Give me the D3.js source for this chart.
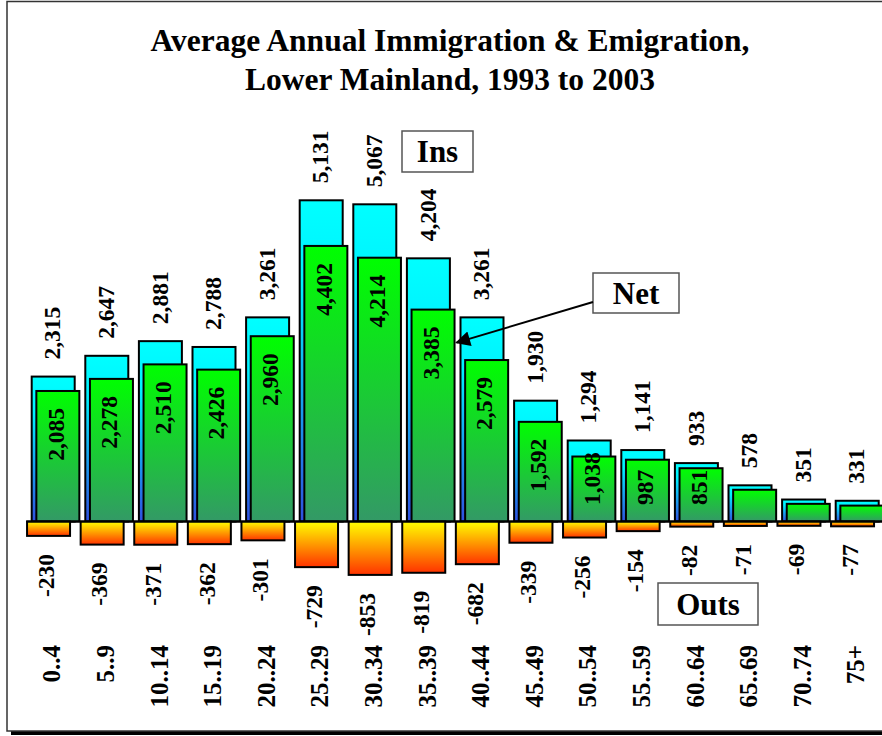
<!DOCTYPE html>
<html>
<head>
<meta charset="utf-8">
<script src="https://cdnjs.cloudflare.com/ajax/libs/d3/7.8.5/d3.min.js"></script>
<style>
  html, body { margin: 0; padding: 0; background: #fff; }
  svg { display: block; }
  text { font-family: "Liberation Serif", "Times New Roman", Times, serif; font-weight: bold; fill: #000; }
</style>
</head>
<body>
<svg id="chart" width="882" height="736"></svg>
<script>
const categories = ["0..4","5..9","10..14","15..19","20..24","25..29","30..34","35..39","40..44","45..49","50..54","55..59","60..64","65..69","70..74","75+"];
const insValues  = [2315, 2647, 2881, 2788, 3261, 5131, 5067, 4204, 3261, 1930, 1294, 1141, 933, 578, 351, 331];
const netValues  = [2085, 2278, 2510, 2426, 2960, 4402, 4214, 3385, 2579, 1592, 1038, 987, 851, 507, 282, 254];
const outsValues = [-230, -369, -371, -362, -301, -729, -853, -819, -682, -339, -256, -154, -82, -71, -69, -77];
const titleLines = ["Average Annual Immigration & Emigration,", "Lower Mainland, 1993 to 2003"];
const seriesNames = ["Ins", "Net", "Outs"];

const svg = d3.select("#chart");
const W = 882, H = 736;
const fmt = d3.format(",");

// frame with shadow
svg.append("rect").attr("x", 11).attr("y", 731).attr("width", 900).attr("height", 4).attr("fill", "#000");
svg.append("rect").attr("x", 7).attr("y", 1.5).attr("width", 900).attr("height", 729.5)
  .attr("fill", "#fff").attr("stroke", "#333").attr("stroke-width", 1.5);

// gradients
const defs = svg.append("defs");
function grad(id, stops) {
  const g = defs.append("linearGradient").attr("id", id).attr("x1", 0).attr("y1", 0).attr("x2", 0).attr("y2", 1);
  stops.forEach(s => g.append("stop").attr("offset", s[0]).attr("stop-color", s[1]));
}
grad("gIns", [[0, "#00ffff"], [0.25, "#00f2ff"], [1, "#3050e0"]]);
grad("gNet", [[0, "#00ff00"], [1, "#339966"]]);
grad("gOuts", [[0, "#ffff00"], [1, "#ff3300"]]);
defs.append("marker").attr("id", "arrow").attr("viewBox", "0 0 10 10")
  .attr("refX", 9).attr("refY", 5).attr("markerWidth", 9).attr("markerHeight", 7.5)
  .attr("markerUnits", "strokeWidth").attr("orient", "auto")
  .append("path").attr("d", "M0,0 L10,5 L0,10 Z").attr("fill", "#000");

// title
svg.append("g").selectAll("text").data(titleLines).join("text")
  .attr("x", 450).attr("y", (d, i) => 51 + i * 39)
  .attr("text-anchor", "middle").attr("font-size", 31.5).text(d => d);

// scales
const x = d3.scaleBand().domain(categories).range([26.4, 884]).padding(0);
const y = d3.scaleLinear().domain([-1000, 6000]).range([584.1, 145.9]);
const barW = 43, off = 4.65;
const cx = c => x(c) + x.bandwidth() / 2;
const y0 = y(0);

const insData = categories.map((c, i) => ({c, v: insValues[i]}));
const netData = categories.map((c, i) => ({c, v: netValues[i]}));
const outsData = categories.map((c, i) => ({c, v: outsValues[i]}));

const bars = svg.append("g");
bars.selectAll(".ins").data(insData).join("rect").attr("class", "ins")
  .attr("x", d => cx(d.c) - barW / 2).attr("y", d => y(d.v))
  .attr("width", barW).attr("height", d => y0 - y(d.v))
  .attr("fill", "url(#gIns)").attr("stroke", "#000").attr("stroke-width", 2);
bars.selectAll(".net").data(netData).join("rect").attr("class", "net")
  .attr("x", d => cx(d.c) + off - barW / 2).attr("y", d => y(d.v))
  .attr("width", barW).attr("height", d => y0 - y(d.v))
  .attr("fill", "url(#gNet)").attr("stroke", "#000").attr("stroke-width", 2);
bars.selectAll(".outs").data(outsData).join("rect").attr("class", "outs")
  .attr("x", d => cx(d.c) - off - barW / 2).attr("y", y0)
  .attr("width", barW).attr("height", d => y(d.v) - y0)
  .attr("fill", "url(#gOuts)").attr("stroke", "#000").attr("stroke-width", 2);

// zero line
svg.append("line").attr("x1", x.range()[0]).attr("x2", W).attr("y1", y0).attr("y2", y0)
  .attr("stroke", "#000").attr("stroke-width", 2);

// labels
const labelSize = 23.5;
const lab = svg.append("g").attr("font-size", labelSize);
lab.selectAll(".insLab").data(insData).join("text").attr("class", "insLab")
  .attr("text-anchor", "start").attr("dy", "0.35em")
  .attr("transform", d => `translate(${cx(d.c) - 1},${y(d.v) - 17}) rotate(-90)`)
  .text(d => fmt(d.v));

lab.selectAll(".netLab").data(netData.filter(d => y0 - y(d.v) > 45)).join("text").attr("class", "netLab")
  .attr("text-anchor", "start").attr("dy", "0.35em")
  .text(d => fmt(d.v))
  .each(function(d) {
    const len = this.getComputedTextLength();
    const ys = Math.min(y(d.v) + 17 + len, y0 - 16.5);
    d3.select(this).attr("transform", `translate(${cx(d.c) + off - 2.5},${ys}) rotate(-90)`);
  });

lab.selectAll(".outLab").data(outsData).join("text").attr("class", "outLab")
  .attr("text-anchor", "end").attr("dy", "0.35em")
  .attr("transform", d => `translate(${cx(d.c) - off - 3},${y(d.v) + 18}) rotate(-90)`)
  .text(d => String(d.v));

// category labels
svg.append("g").attr("font-size", 25).selectAll("text").data(categories).join("text")
  .attr("text-anchor", "end").attr("dy", "0.35em")
  .attr("transform", d => `translate(${cx(d) - 1.5},645) rotate(-90)`)
  .text(d => d);

// series boxes
const boxes = [
  {name: seriesNames[0], x: 402, y: 131, w: 71, h: 41},
  {name: seriesNames[1], x: 593, y: 273, w: 86, h: 40},
  {name: seriesNames[2], x: 658, y: 583, w: 100, h: 42}
];
const bg = svg.append("g");
bg.selectAll("rect").data(boxes).join("rect")
  .attr("x", d => d.x).attr("y", d => d.y).attr("width", d => d.w).attr("height", d => d.h)
  .attr("fill", "#fff").attr("stroke", "#555").attr("stroke-width", 1.5);
bg.selectAll("text").data(boxes).join("text")
  .attr("x", d => d.x + d.w / 2).attr("y", d => d.y + d.h / 2).attr("dy", "0.34em")
  .attr("text-anchor", "middle").attr("font-size", 31).text(d => d.name);

// arrow from Net box to the Net bar of 35..39
const target = netData[7];
svg.append("line")
  .attr("x1", boxes[1].x).attr("y1", boxes[1].y + 29)
  .attr("x2", cx(target.c) + off + barW / 2 + 2).attr("y2", y(target.v) + 33)
  .attr("stroke", "#000").attr("stroke-width", 2).attr("marker-end", "url(#arrow)");
</script>
</body>
</html>
